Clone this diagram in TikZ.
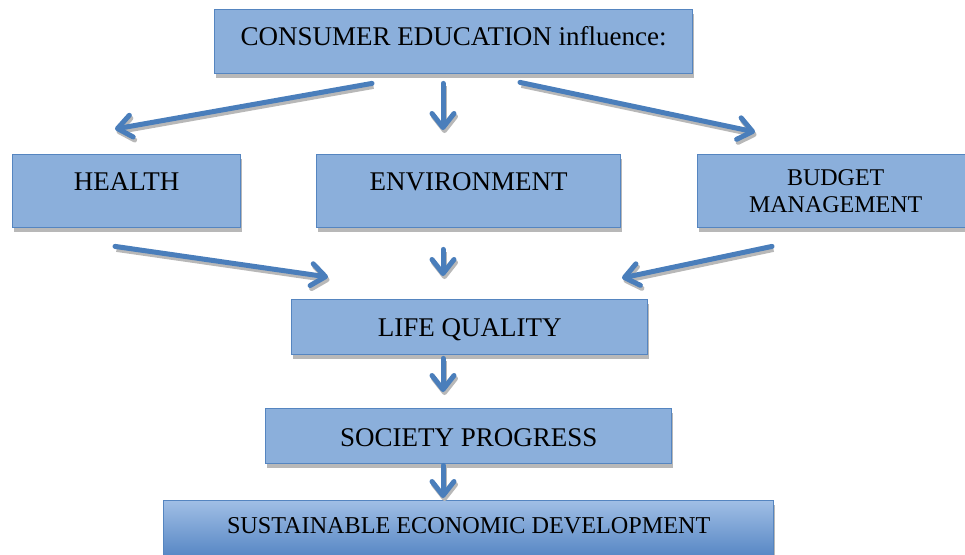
\documentclass[tikz,border=0pt]{standalone}
\usepackage{fontspec}
\setmainfont{Liberation Serif}
\usetikzlibrary{arrows.meta,shadows,calc}
\definecolor{boxfill}{HTML}{8BAFDB}
\definecolor{boxline}{HTML}{5585C0}
\definecolor{arrowcol}{HTML}{4A7EBB}
\definecolor{shadowcol}{HTML}{B8B8B8}
\definecolor{gradtop}{HTML}{A0BEE5}
\definecolor{gradbot}{HTML}{4479BC}
\tikzset{
  box/.style={draw=boxline, line width=1.4pt, fill=boxfill, inner sep=0pt,
    anchor=north west, font=\fontsize{27}{31}\selectfont,
    drop shadow={shadow xshift=1pt, shadow yshift=-4pt, fill=shadowcol, opacity=1}},
  flow/.style={draw=arrowcol, line width=5pt, line cap=round,
    -{Straight Barb[length=14pt,width=22pt,round]},
    preaction={draw=shadowcol, line width=5pt, -{Straight Barb[length=14pt,width=22pt,round]},
      transform canvas={shift={(1.5pt,-3pt)}}}}
}
\begin{document}
\begin{tikzpicture}[x=1pt,y=-1pt]
\useasboundingbox (0,0) rectangle (965,554);
\clip (0,0) rectangle (965,554);
% boxes
\node[box, minimum width=478pt, text height=36pt, text depth=28pt] (top) at (214,9) {CONSUMER EDUCATION influence:};
\node[box, minimum width=228pt, text height=36pt, text depth=37pt] (health) at (12,154) {HEALTH};
\node[box, minimum width=304pt, text height=36pt, text depth=37pt] (env) at (316,154) {ENVIRONMENT};
\node[box, minimum width=300pt, minimum height=73pt, align=center,
  font=\fontsize{24}{27.5}\selectfont] (budget) at (697,154) {BUDGET\hspace*{24pt}\\MANAGEMENT\hspace*{24pt}};
\node[box, minimum width=356pt, text height=37pt, text depth=18pt] (life) at (291,299) {LIFE QUALITY};
\node[box, minimum width=406pt, text height=38pt, text depth=17pt] (society) at (265,408) {SOCIETY PROGRESS};
\node[box, minimum width=610pt, text height=33pt, text depth=37pt, top color=gradtop, bottom color=gradbot,
  font=\fontsize{24.2}{28}\selectfont] (sust) at (163,500) {SUSTAINABLE ECONOMIC DEVELOPMENT};
% connector end points
\coordinate (a1s) at ($(top.south west)+(158,9)$);
\coordinate (a1e) at ($(health.north west)+(103,-25)$);
\coordinate (a2s) at ($(top.south west)+(229,9)$);
\coordinate (a2e) at ($(env.north west)+(127,-24)$);
\coordinate (a3s) at ($(top.south west)+(306,8)$);
\coordinate (a3e) at ($(budget.north west)+(58,-22)$);
\coordinate (b1s) at ($(health.south west)+(103,18)$);
\coordinate (b1e) at ($(life.north west)+(37,-22)$);
\coordinate (b2s) at ($(env.south west)+(127,21)$);
\coordinate (b2e) at ($(life.north west)+(152,-23)$);
\coordinate (b3s) at ($(budget.south west)+(75,18)$);
\coordinate (b3e) at ($(life.north west)+(331,-21)$);
\coordinate (c1s) at ($(life.south west)+(152,3)$);
\coordinate (c1e) at ($(society.north west)+(178,-16)$);
\coordinate (c2s) at ($(society.south west)+(178,1)$);
\coordinate (c2e) at ($(sust.north west)+(280,-2)$);
% connectors
\draw[flow] (a1s) -- (a1e);
\draw[flow] (a2s) -- (a2e);
\draw[flow] (a3s) -- (a3e);
\draw[flow] (b1s) -- (b1e);
\draw[flow] (b2s) -- (b2e);
\draw[flow] (b3s) -- (b3e);
\draw[flow] (c1s) -- (c1e);
\draw[flow] (c2s) -- (c2e);
\end{tikzpicture}
\end{document}
